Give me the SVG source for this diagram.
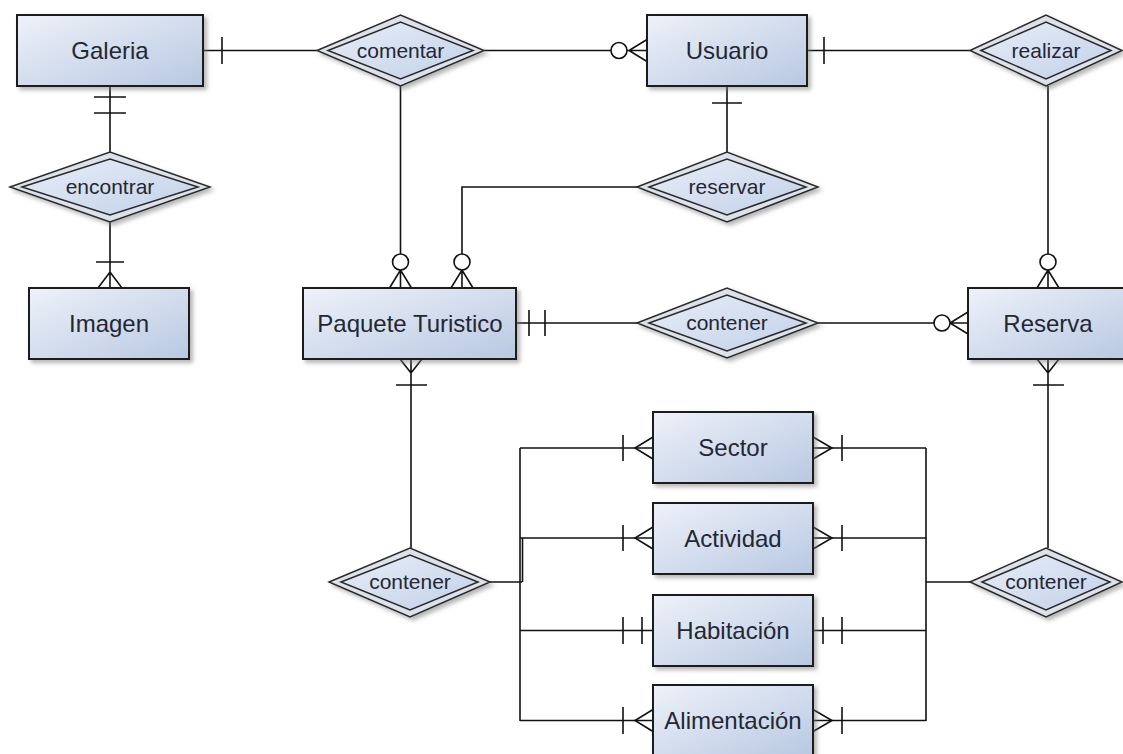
<svg xmlns="http://www.w3.org/2000/svg" width="1123" height="754" viewBox="0 0 1123 754">
<defs>
<linearGradient id="boxg" x1="0" y1="0" x2="1" y2="1">
<stop offset="0" stop-color="#eef2f9"/>
<stop offset="1" stop-color="#b8c8e2"/>
</linearGradient>
<linearGradient id="dg" x1="0" y1="0" x2="1" y2="1">
<stop offset="0" stop-color="#e8eef8"/>
<stop offset="1" stop-color="#c2d0e8"/>
</linearGradient>
<filter id="sh" x="-10%" y="-10%" width="125%" height="130%">
<feDropShadow dx="3" dy="3" stdDeviation="2" flood-color="#7a7a7a" flood-opacity="0.55"/>
</filter>
</defs>
<style>
.ent{fill:url(#boxg);stroke:#1e1e1e;stroke-width:2;filter:url(#sh)}
.dout{fill:#dde2ea;stroke:#2a2a2a;stroke-width:1.5;filter:url(#sh)}
.din{fill:url(#dg);stroke:#2a2a2a;stroke-width:1.5}
.et{font-family:"Liberation Sans",Arial,sans-serif;font-size:24px;fill:#232733;text-anchor:middle}
.rt{font-family:"Liberation Sans",Arial,sans-serif;font-size:21px;fill:#232733;text-anchor:middle}
.ln{fill:none;stroke:#111;stroke-width:1.6}
.ci{fill:#fff;stroke:#111;stroke-width:1.6}
</style>
<rect width="1123" height="754" fill="#fff"/>

<g id="connectors">
<!-- Galeria - comentar -->
<path class="ln" d="M203 50.5H317M222 37V64"/>
<!-- comentar - Usuario -->
<path class="ln" d="M484 50.5H611M627 50.5H647M647 39.5L629 50.5L647 61.5"/>
<circle class="ci" cx="619" cy="50.5" r="8"/>
<!-- comentar - Paquete -->
<path class="ln" d="M400.5 86V254M400.5 270V288M389.5 288L400.5 270L411.5 288"/>
<circle class="ci" cx="400.5" cy="262" r="8"/>
<!-- Usuario - realizar -->
<path class="ln" d="M807 50.5H970M824 37V64"/>
<!-- Usuario - reservar -->
<path class="ln" d="M727 86V152M712 103H742"/>
<!-- reservar - Paquete -->
<path class="ln" d="M637 187H462V254M462 270V288M451 288L462 270L473 288"/>
<circle class="ci" cx="462" cy="262" r="8"/>
<!-- realizar - Reserva -->
<path class="ln" d="M1048 86V254M1048 270V288M1037 288L1048 270L1059 288"/>
<circle class="ci" cx="1048" cy="262" r="8"/>
<!-- Galeria - encontrar -->
<path class="ln" d="M110 86V152M94 97H126M94 113H126"/>
<!-- encontrar - Imagen -->
<path class="ln" d="M110 222V288M96 262H124M98 288L110 272L122 288"/>
<!-- Paquete - contener -->
<path class="ln" d="M516 323H637M529 310V336M545 310V336"/>
<!-- contener - Reserva -->
<path class="ln" d="M818 323H934M950 323H968M968 312L950 323L968 334"/>
<circle class="ci" cx="942" cy="323" r="8"/>
<!-- Paquete - contener (bottom) -->
<path class="ln" d="M411 359V548M400 359L411 373L422 359M396 385H427"/>
<!-- Reserva - contener (right) -->
<path class="ln" d="M1048 359V548M1037 359L1048 373L1059 359M1033 385H1064"/>
<!-- left bus -->
<path class="ln" d="M490 582H522M520 448V721M522.5 538V582M520 448H653M520 538H653M520 630.5H653M520 720.5H653"/>
<path class="ln" d="M623 435V461M653 437L635 448L653 459"/>
<path class="ln" d="M623 525V551M653 527L635 538L653 549"/>
<path class="ln" d="M623 617V644M642 617V644"/>
<path class="ln" d="M623 707V734M653 709.5L635 720.5L653 731.5"/>
<!-- right bus -->
<path class="ln" d="M926 448V721M926 582H970M813 448H926M813 538H926M813 630.5H926M813 720.5H926"/>
<path class="ln" d="M842 435V461M813 437L832 448L813 459"/>
<path class="ln" d="M842 525V551M813 527L832 538L813 549"/>
<path class="ln" d="M823 617V644M842 617V644"/>
<path class="ln" d="M842 707V734M813 709.5L832 720.5L813 731.5"/>
</g>

<g id="galeria"><rect class="ent" x="17" y="15" width="186" height="71"/><text class="et" x="110" y="59">Galeria</text></g>
<g id="usuario"><rect class="ent" x="647" y="15" width="160" height="71"/><text class="et" x="727" y="59">Usuario</text></g>
<g id="imagen"><rect class="ent" x="29" y="288" width="160" height="71"/><text class="et" x="109" y="332">Imagen</text></g>
<g id="paquete"><rect class="ent" x="303" y="288" width="213" height="71"/><text class="et" x="410" y="332">Paquete Turistico</text></g>
<g id="reserva"><rect class="ent" x="968" y="288" width="162" height="71"/><text class="et" x="1048" y="332">Reserva</text></g>
<g id="sector"><rect class="ent" x="653" y="412" width="160" height="71"/><text class="et" x="733" y="456">Sector</text></g>
<g id="actividad"><rect class="ent" x="653" y="503" width="160" height="71"/><text class="et" x="733" y="547">Actividad</text></g>
<g id="habitacion"><rect class="ent" x="653" y="595" width="160" height="71"/><text class="et" x="733" y="639">Habitación</text></g>
<g id="alimentacion"><rect class="ent" x="653" y="685" width="160" height="71"/><text class="et" x="733" y="729">Alimentación</text></g>

<g id="comentar"><polygon class="dout" points="317,50.5 400.5,15 484,50.5 400.5,86"/><polygon class="din" points="328,50.5 400.5,22 473,50.5 400.5,79"/><text class="rt" x="400.5" y="58">comentar</text></g>
<g id="realizar"><polygon class="dout" points="970,50.5 1046,15 1122,50.5 1046,86"/><polygon class="din" points="981,50.5 1046,22 1111,50.5 1046,79"/><text class="rt" x="1046" y="58">realizar</text></g>
<g id="encontrar"><polygon class="dout" points="10,187 110,152 210,187 110,222"/><polygon class="din" points="22,187 110,159 198,187 110,215"/><text class="rt" x="110" y="194">encontrar</text></g>
<g id="reservar"><polygon class="dout" points="637,187 727,152 818,187 727,222"/><polygon class="din" points="649,187 727,159 806,187 727,215"/><text class="rt" x="727" y="194">reservar</text></g>
<g id="contener1"><polygon class="dout" points="637,323 727,288 818,323 727,358"/><polygon class="din" points="649,323 727,295 806,323 727,351"/><text class="rt" x="727" y="330">contener</text></g>
<g id="contener2"><polygon class="dout" points="329,582 410,548 490,582 410,617"/><polygon class="din" points="341,582 410,555 478,582 410,610"/><text class="rt" x="410" y="589">contener</text></g>
<g id="contener3"><polygon class="dout" points="970,582 1046,548 1122,582 1046,617"/><polygon class="din" points="982,582 1046,555 1110,582 1046,610"/><text class="rt" x="1046" y="589">contener</text></g>
</svg>
